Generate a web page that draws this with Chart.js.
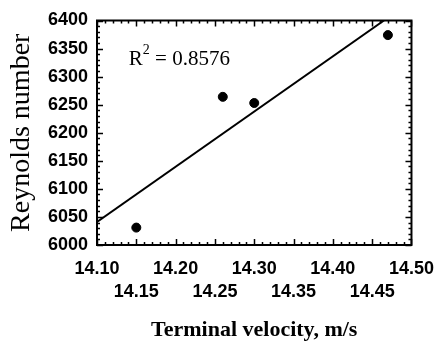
<!DOCTYPE html>
<html>
<head>
<meta charset="utf-8">
<script src="https://cdn.jsdelivr.net/npm/chart.js@4"></script>
<style>
html,body{margin:0;padding:0;background:#fff;}
#c{display:block;}
</style>
</head>
<body>
<canvas id="c" width="447" height="346"></canvas>
<script>
// ---- data ----
const velocity = [14.15, 14.26, 14.30, 14.47];
const reynolds = [6031, 6264, 6253, 6374];
const trendX = [14.10, 14.465];
const trendY = [6041, 6400];
const xTitle = 'Terminal velocity, m/s';
const yTitle = 'Reynolds number';
const annText = ['R', '2', ' = 0.8576'];
const annPos = [14.1405, 6321];
const xRange = [14.10, 14.50];
const yRange = [6000, 6400];

const points = velocity.map((v, i) => ({x: v, y: reynolds[i]}));
const trend = trendX.map((v, i) => ({x: v, y: trendY[i]}));

const tickFont = {family: '"Liberation Sans", Arial, sans-serif', size: 18, weight: 'bold', lineHeight: 1.278};

const framePlugin = {
  id: 'frame',
  afterDraw(chart) {
    const {ctx, chartArea: a, scales} = chart;
    ctx.save();
    ctx.strokeStyle = '#000';
    ctx.lineWidth = 2;
    ctx.strokeRect(a.left, a.top, a.right - a.left, a.bottom - a.top);
    ctx.lineWidth = 1.5;
    ctx.beginPath();
    scales.x.ticks.forEach(t => {
      const px = Math.round(scales.x.getPixelForValue(t.value)) + 0.5;
      const major = Math.round(t.value * 100) % 5 === 0;
      const len = major ? 6 : 3;
      ctx.moveTo(px, a.bottom); ctx.lineTo(px, a.bottom - len);
      ctx.moveTo(px, a.top); ctx.lineTo(px, a.top + len);
    });
    scales.y.ticks.forEach(t => {
      const py = Math.round(scales.y.getPixelForValue(t.value)) + 0.5;
      const major = Math.round(t.value) % 50 === 0;
      const len = major ? 6 : 3;
      ctx.moveTo(a.left, py); ctx.lineTo(a.left + len, py);
      ctx.moveTo(a.right, py); ctx.lineTo(a.right - len, py);
    });
    ctx.stroke();
    // annotation
    const ax = scales.x.getPixelForValue(annPos[0]);
    const ay = scales.y.getPixelForValue(annPos[1]);
    ctx.fillStyle = '#000';
    ctx.textBaseline = 'alphabetic';
    ctx.textAlign = 'left';
    ctx.font = '21px "Liberation Serif", "Times New Roman", serif';
    ctx.fillText(annText[0], ax, ay);
    let w = ctx.measureText(annText[0]).width;
    ctx.font = '14px "Liberation Serif", "Times New Roman", serif';
    ctx.fillText(annText[1], ax + w, ay - 11);
    w += ctx.measureText(annText[1]).width;
    ctx.font = '21px "Liberation Serif", "Times New Roman", serif';
    ctx.fillText(annText[2], ax + w, ay);
    ctx.restore();
  }
};

new Chart(document.getElementById('c'), {
  type: 'scatter',
  data: {
    datasets: [
      {
        label: 'Data',
        data: points,
        backgroundColor: '#000',
        borderColor: '#000',
        pointRadius: 4.5,
        pointHoverRadius: 4.5
      },
      {
        type: 'line',
        label: 'Fit',
        data: trend,
        borderColor: '#000',
        borderWidth: 2,
        pointRadius: 0,
        fill: false,
        tension: 0
      }
    ]
  },
  plugins: [framePlugin],
  options: {
    responsive: false,
    devicePixelRatio: 1,
    animation: false,
    layout: {padding: {left: 0, top: 17, right: 26, bottom: 0}},
    plugins: {legend: {display: false}, tooltip: {enabled: false}},
    scales: {
      x: {
        type: 'linear',
        min: xRange[0], max: xRange[1],
        grid: {display: false, drawTicks: false, tickLength: 0},
        border: {display: false},
        ticks: {
          stepSize: 0.01,
          autoSkip: false,
          maxRotation: 0, minRotation: 0,
          padding: 13,
          color: '#000',
          font: tickFont,
          callback: (v) => {
            const k = Math.round(v * 100);
            if (k % 10 === 0) return [(k / 100).toFixed(2), ''];
            if (k % 5 === 0) return ['', (k / 100).toFixed(2)];
            return '';
          }
        },
        title: {
          display: true,
          text: xTitle,
          color: '#000',
          font: {family: '"Liberation Serif", "Times New Roman", serif', size: 22, weight: 'bold', lineHeight: 1.2},
          padding: {top: 0, bottom: 2}
        },
        afterFit: (s) => { s.height = 101; }
      },
      y: {
        type: 'linear',
        min: yRange[0], max: yRange[1],
        grid: {display: false, drawTicks: false, tickLength: 0},
        border: {display: false},
        ticks: {
          stepSize: 10,
          autoSkip: false,
          padding: 9,
          color: '#000',
          font: tickFont,
          callback: (v) => (Math.round(v) % 50 === 0 ? String(Math.round(v)) : '')
        },
        title: {
          display: true,
          text: yTitle,
          color: '#000',
          font: {family: '"Liberation Serif", "Times New Roman", serif', size: 28, lineHeight: 1.2},
          padding: {top: 5, bottom: 0}
        },
        afterFit: (s) => { s.width = 97; }
      }
    }
  }
});
</script>
</body>
</html>
